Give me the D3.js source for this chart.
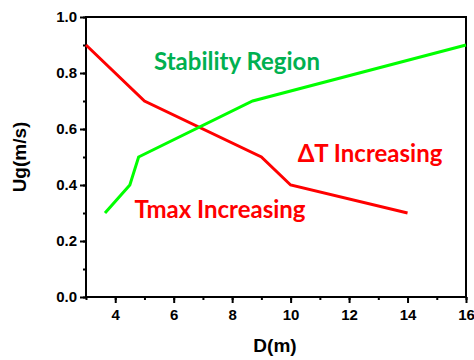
<!DOCTYPE html>
<html>
<head>
<meta charset="utf-8">
<script src="https://cdn.jsdelivr.net/npm/d3@7"></script>
<style>
  body { margin: 0; background: #fff; }
  text { font-family: "Liberation Sans", Arial, sans-serif; font-weight: bold; }
</style>
</head>
<body>
<div id="chart"></div>
<script>
// data
var tmaxD = [3, 5, 9, 10, 14];
var tmaxUg = [0.9, 0.7, 0.5, 0.4, 0.3];
var stabD = [3.65, 4.5, 4.8, 8.7, 16];
var stabUg = [0.3, 0.4, 0.5, 0.7, 0.9];
var xTicks = [4, 6, 8, 10, 12, 14, 16];
var yTicks = [0.0, 0.2, 0.4, 0.6, 0.8, 1.0];

var width = 474, height = 360;
var margin = { top: 17, right: 8, bottom: 63, left: 86 };

var svg = d3.select('#chart').append('svg')
  .attr('width', width)
  .attr('height', height);

var x = d3.scaleLinear().domain([3, 16]).range([margin.left, width - margin.right]);
var y = d3.scaleLinear().domain([0, 1]).range([height - margin.bottom, margin.top]);

//minor ticks
svg.append('g')
  .attr('transform', 'translate(0,' + y(0) + ')')
  .call(d3.axisBottom(x).tickValues(d3.range(3, 17, 1)).tickSize(3).tickFormat(''))
  .call(g => g.select('.domain').remove())
  .selectAll('line').attr('stroke-width', 2);
svg.append('g')
  .attr('transform', 'translate(' + x(3) + ',0)')
  .call(d3.axisLeft(y).tickValues(d3.range(0, 1.01, 0.1)).tickSize(3).tickFormat(''))
  .call(g => g.select('.domain').remove())
  .selectAll('line').attr('stroke-width', 2);

//major ticks
var xAxis = svg.append('g')
  .attr('transform', 'translate(0,' + y(0) + ')')
  .call(d3.axisBottom(x).tickValues(xTicks).tickSize(6).tickPadding(6).tickFormat(d3.format('d')));
xAxis.select('.domain').remove();
xAxis.selectAll('line').attr('stroke-width', 2);
xAxis.selectAll('text').style('font-size', '15px').attr('fill', '#000');

var yAxis = svg.append('g')
  .attr('transform', 'translate(' + x(3) + ',0)')
  .call(d3.axisLeft(y).tickValues(yTicks).tickSize(6).tickPadding(3).tickFormat(d3.format('.1f')));
yAxis.select('.domain').remove();
yAxis.selectAll('line').attr('stroke-width', 2);
yAxis.selectAll('text').style('font-size', '15px').attr('fill', '#000');

//frame
svg.append('rect')
  .attr('x', x(3)).attr('y', y(1))
  .attr('width', x(16) - x(3)).attr('height', y(0) - y(1))
  .attr('fill', 'none').attr('stroke', '#000').attr('stroke-width', 2);

var line = d3.line().x(d => x(d[0])).y(d => y(d[1]));

svg.append('path')
  .datum(d3.zip(tmaxD, tmaxUg))
  .attr('d', line)
  .attr('fill', 'none').attr('stroke', '#ff0000').attr('stroke-width', 3);

svg.append('path')
  .datum(d3.zip(stabD, stabUg))
  .attr('d', line)
  .attr('fill', 'none').attr('stroke', '#00ff00').attr('stroke-width', 3);

//annotations
svg.append('text').attr('x', 237).attr('y', 70).attr('text-anchor', 'middle')
  .attr('fill', '#00b050').style('font-family', 'Lato, sans-serif').style('font-size', '24px')
  .text('Stability Region');
svg.append('text').attr('x', 370).attr('y', 162).attr('text-anchor', 'middle')
  .attr('fill', '#ff0000').style('font-family', 'Lato, sans-serif').style('font-size', '24px')
  .text('ΔT Increasing');
svg.append('text').attr('x', 220).attr('y', 218).attr('text-anchor', 'middle')
  .attr('fill', '#ff0000').style('font-family', 'Lato, sans-serif').style('font-size', '24px')
  .text('Tmax Increasing');

//axis titles
svg.append('text').attr('x', 275).attr('y', 352).attr('text-anchor', 'middle')
  .style('font-size', '19px').text('D(m)');
svg.append('text')
  .attr('transform', 'translate(26,' + y(0.5) + ') rotate(-90)')
  .attr('text-anchor', 'middle')
  .style('font-size', '19px').text('Ug(m/s)');
</script>
</body>
</html>
